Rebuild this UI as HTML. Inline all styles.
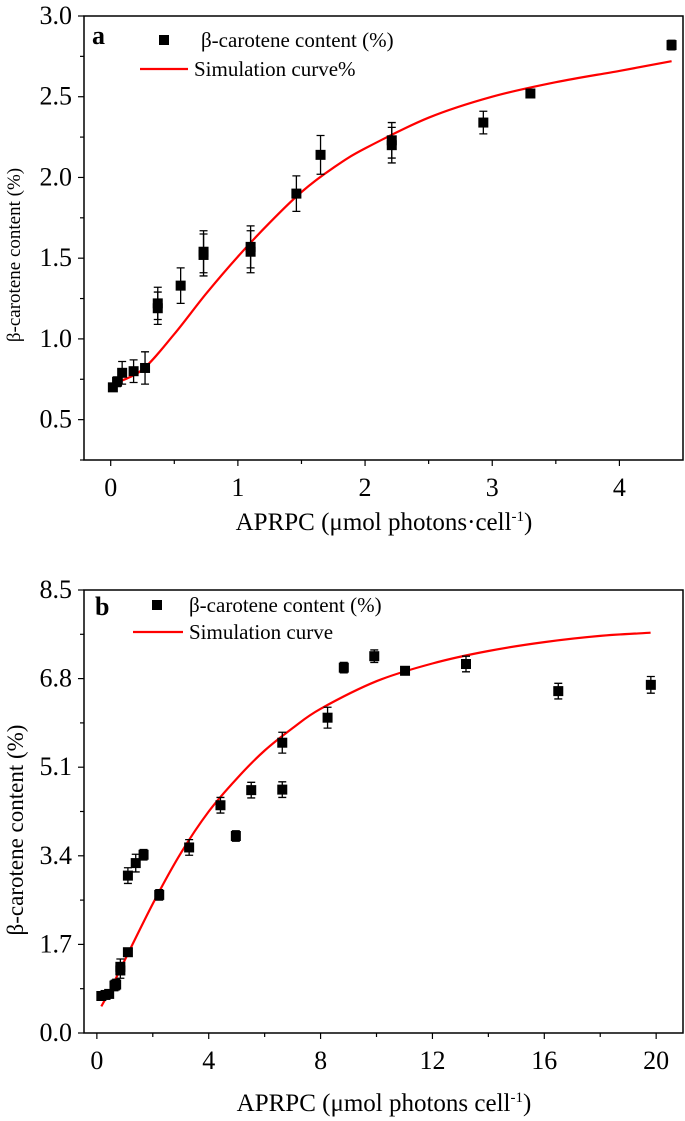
<!DOCTYPE html>
<html><head><meta charset="utf-8"><style>
html,body{margin:0;padding:0;background:#fff}
svg{display:block}
text{font-family:"Liberation Serif",serif;fill:#000}
</style></head><body>
<svg id="chart" width="685" height="1121" viewBox="0 0 685 1121"></svg>
<script>
// Panel a data
const aX = [0.017,0.05,0.09,0.18,0.27,0.37,0.37,0.55,0.73,0.73,1.10,1.10,1.46,1.65,2.21,2.21,2.93,3.30,4.41];
const aY = [0.70,0.735,0.79,0.80,0.82,1.22,1.19,1.33,1.54,1.52,1.57,1.54,1.90,2.14,2.23,2.20,2.34,2.52,2.82];
const aErr = [0.02,0.03,0.07,0.07,0.1,0.1,0.1,0.11,0.13,0.13,0.13,0.13,0.11,0.12,0.11,0.11,0.07,0.02,0.03];
const aCurveX = [0.017,0.25,0.5,0.75,1.0,1.25,1.5,1.75,2.0,2.5,3.0,3.5,4.0,4.41];
const aCurveY = [0.72,0.81,1.03,1.28,1.51,1.72,1.91,2.06,2.18,2.37,2.50,2.59,2.66,2.72];
const aXTicks = ["0","1","2","3","4"];
const aYTicks = ["0.5","1.0","1.5","2.0","2.5","3.0"];
// Panel b data
const bX = [0.16,0.31,0.44,0.63,0.69,0.84,0.84,1.11,1.11,1.39,1.67,2.23,3.30,4.42,4.97,5.52,6.63,6.63,8.25,8.83,9.92,11.02,13.2,16.5,19.81];
const bY = [0.71,0.73,0.75,0.91,0.93,1.27,1.20,1.55,3.02,3.26,3.42,2.65,3.56,4.37,3.78,4.66,5.57,4.67,6.05,7.01,7.23,6.95,7.08,6.56,6.68];
const bErr = [0.05,0.05,0.05,0.1,0.1,0.15,0.15,0.05,0.15,0.17,0.1,0.1,0.15,0.15,0.1,0.15,0.2,0.15,0.2,0.1,0.12,0.03,0.15,0.15,0.16];
const bCurveX = [0.16,0.5,1.0,2.0,3.0,4.0,5.0,6.0,7.0,8.0,10.0,12.0,14.0,16.0,18.0,19.8];
const bCurveY = [0.51,0.85,1.4,2.48,3.45,4.25,4.88,5.42,5.85,6.22,6.75,7.09,7.33,7.50,7.62,7.68];
const bXTicks = ["0","4","8","12","16","20"];
const bYTicks = ["0.0","1.7","3.4","5.1","6.8","8.5"];

const NS="http://www.w3.org/2000/svg";
const svg=document.getElementById('chart');
function el(tag,attrs,parent){const e=document.createElementNS(NS,tag);for(const k in attrs)e.setAttribute(k,attrs[k]);(parent||svg).appendChild(e);return e;}

function smoothPath(pts){
  let d='M'+pts[0][0].toFixed(1)+','+pts[0][1].toFixed(1);
  for(let i=0;i<pts.length-1;i++){
    const p0=pts[i-1]||pts[i],p1=pts[i],p2=pts[i+1],p3=pts[i+2]||p2;
    const c1=[p1[0]+(p2[0]-p0[0])/6,p1[1]+(p2[1]-p0[1])/6];
    const c2=[p2[0]-(p3[0]-p1[0])/6,p2[1]-(p3[1]-p1[1])/6];
    d+='C'+c1.map(v=>v.toFixed(1)).join(',')+' '+c2.map(v=>v.toFixed(1)).join(',')+' '+p2[0].toFixed(1)+','+p2[1].toFixed(1);
  }
  return d;
}

function panel(p){
  const g=el('g',{});
  
  
  const sx=v=>p.L+(v-p.xmin)/(p.xmax-p.xmin)*(p.R-p.L);
  const sy=v=>p.B-(v-p.ymin)/(p.ymax-p.ymin)*(p.B-p.T);
  const frame=el('rect',{x:p.L,y:p.T,width:p.R-p.L,height:p.B-p.T,fill:'none',stroke:'#000','stroke-width':1.5},g);
  
  
  p.xTicks.forEach((t,i)=>{
    const v=parseFloat(t);const x=sx(v);
    const tk=el('line',{x1:x,x2:x,y1:p.B,y2:p.B+6,stroke:'#000','stroke-width':1.2},g);
    
    
    if(i<p.xTicks.length-1){const xm=sx(v+p.xStep/2);
      const mt=el('line',{x1:xm,x2:xm,y1:p.B,y2:p.B+4,stroke:'#000','stroke-width':1.2},g);
      
      }
    const tl=el('text',{x:x,y:p.B+36,'text-anchor':'middle','font-size':26},g);tl.textContent=t;
    
    
  });
  p.yTicks.forEach(t=>{
    const v=parseFloat(t);const y=sy(v);
    const tk=el('line',{x1:p.L-6,x2:p.L,y1:y,y2:y,stroke:'#000','stroke-width':1.2},g);
    
    
    const ym=sy(v-p.yStep/2);
    if(ym<=p.B){const mt=el('line',{x1:p.L-4,x2:p.L,y1:ym,y2:ym,stroke:'#000','stroke-width':1.2},g);
      
      }
    const tl=el('text',{x:p.L-12,y:y+8,'text-anchor':'end','font-size':26},g);tl.textContent=t;
    
    
  });
  const pts=p.cx.map((v,i)=>[sx(v),sy(p.cy[i])]);
  const c=el('path',{d:smoothPath(pts),fill:'none',stroke:'#f00','stroke-width':2.2},g);
  
  
  p.px.forEach((v,i)=>{
    const x=sx(v),y=sy(p.py[i]),e=p.pe[i];
    const y1=sy(p.py[i]+e),y2=sy(p.py[i]-e);
    const eb=el('path',{d:`M${x},${y1}V${y2}M${x-4},${y1}H${x+4}M${x-4},${y2}H${x+4}`,stroke:'#000','stroke-width':1.3,fill:'none'},g);
    
    
    const r=el('rect',{x:x-5,y:y-5,width:10,height:10,fill:'#000'},g);
    
    
  });
  const lab=el('text',{x:p.labX,y:p.labY,'font-size':26,'font-weight':'bold'},g);lab.textContent=p.label;
  
  
  const lm=el('rect',{x:p.legSqX-5,y:p.legSqY-5,width:10,height:10,fill:'#000'},g);
  
  
  const lt1=el('text',{x:p.legTx1,y:p.legSqY+7,'font-size':21},g);lt1.textContent='β-carotene content (%)';
  
  
  const ll=el('line',{x1:p.legL1,x2:p.legL2,y1:p.legLY,y2:p.legLY,stroke:'#f00','stroke-width':2.2},g);
  
  
  const lt2=el('text',{x:p.legTx2,y:p.legLY+7,'font-size':21},g);lt2.textContent=p.legText2;
  
  
  const yt=el('text',{x:0,y:0,'font-size':p.ytSize,'text-anchor':'middle',transform:`translate(${p.ytX},${p.ytY}) rotate(-90)`},g);yt.textContent=p.ytitle;
  
  
  const xt=el('text',{x:384,y:p.xtY,'font-size':25,'text-anchor':'middle'},g);
  xt.innerHTML=p.xtitle;
  
  
}
panel({name:'panel-a',L:84,R:683,T:16,B:460,xmin:-0.21,xmax:4.5,ymin:0.25,ymax:3.0,xStep:1,yStep:0.5,
  xTicks:aXTicks,yTicks:aYTicks,px:aX,py:aY,pe:aErr,cx:aCurveX,cy:aCurveY,label:'a',labX:92,labY:44,
  legSqX:164,legSqY:40,legTx1:201,legL1:140,legL2:188,legLY:69,legTx2:194,legText2:'Simulation curve%',
  ytitle:'β-carotene content (%)',ytSize:19,ytX:20,ytY:255,xtY:530,
  xtitle:'APRPC (μmol photons·cell<tspan dy="-9" font-size="15">-1</tspan><tspan dy="9">)</tspan>'});
panel({name:'panel-b',L:84,R:683,T:590,B:1033,xmin:-0.46,xmax:20.96,ymin:0,ymax:8.5,xStep:4,yStep:1.7,
  xTicks:bXTicks,yTicks:bYTicks,px:bX,py:bY,pe:bErr,cx:bCurveX,cy:bCurveY,label:'b',labX:95,labY:615,
  legSqX:157,legSqY:605,legTx1:189,legL1:133,legL2:183,legLY:632,legTx2:189,legText2:'Simulation curve',
  ytitle:'β-carotene content (%)',ytSize:23,ytX:23,ytY:830,xtY:1111,
  xtitle:'APRPC (μmol photons cell<tspan dy="-9" font-size="15">-1</tspan><tspan dy="9">)</tspan>'});
</script>
</body></html>
